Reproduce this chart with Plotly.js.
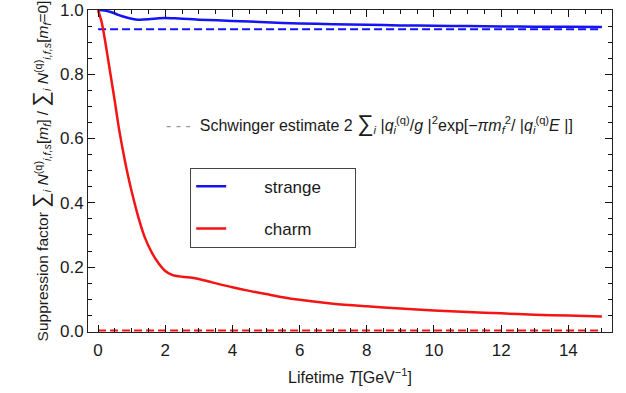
<!DOCTYPE html>
<html>
<head>
<meta charset="utf-8">
<script src="https://cdn.plot.ly/plotly-3.0.1.min.js"></script>
<style>html,body{margin:0;padding:0;background:#fff}#chart{width:626px;height:393px}</style>
</head>
<body>
<div id="chart"></div>
<script>
// Lifetime T [GeV^-1]
const strangeT = [0, 0.2, 0.4, 0.6, 0.8, 1.0, 1.2, 1.5, 1.8, 2.0, 2.3, 2.7, 3.0, 4, 5, 6, 7, 8, 9, 10, 11, 12, 13, 14, 15];
const strangeY = [1.0, 0.998, 0.993, 0.985, 0.978, 0.973, 0.970, 0.971, 0.974, 0.975, 0.974, 0.972, 0.970, 0.966, 0.962, 0.958, 0.956, 0.954, 0.952, 0.951, 0.950, 0.949, 0.948, 0.948, 0.947];

const charmT = [0, 0.1, 0.2, 0.3, 0.4, 0.5, 0.6, 0.7, 0.8, 0.9, 1.0, 1.2, 1.4, 1.6, 1.8, 2.0, 2.2, 2.5, 2.8, 3.0, 3.3, 3.6, 4.0, 4.5, 5, 5.5, 6, 7, 8, 9, 10, 11, 12, 13, 14, 15];
const charmY = [1.0, 0.965, 0.91, 0.845, 0.78, 0.715, 0.645, 0.585, 0.53, 0.48, 0.435, 0.355, 0.29, 0.245, 0.212, 0.188, 0.176, 0.170, 0.167, 0.163, 0.155, 0.147, 0.137, 0.126, 0.116, 0.106, 0.098, 0.086, 0.078, 0.071, 0.065, 0.060, 0.056, 0.052, 0.049, 0.046];

// Schwinger estimates (constant in T)
const schwingerT = [0, 15];
const schwingerStrange = [0.940, 0.940];
const schwingerCharm = [0.003, 0.003];

const seriesNames = ['strange', 'charm'];

const FONT = 'Liberation Sans, Arial, sans-serif';
const BLUE = '#1414f5';
const RED = '#f51414';
const NB = '\u00a0';
const pad = (s) => NB.repeat(7) + s + NB.repeat(6);

const traces = [
  {x: schwingerT, y: schwingerStrange, mode: 'lines', line: {color: BLUE, width: 2, dash: '8px,4px'}, showlegend: false, hoverinfo: 'skip'},
  {x: schwingerT, y: schwingerCharm, mode: 'lines', line: {color: RED, width: 2, dash: '8px,4px'}, showlegend: false, hoverinfo: 'skip'},
  {x: strangeT, y: strangeY, mode: 'lines', name: pad(seriesNames[0]), legendgroup: 'a', line: {color: BLUE, width: 2.5, shape: 'spline', smoothing: 0.8}},
  {x: charmT, y: charmY, mode: 'lines', name: pad(seriesNames[1]), legendgroup: 'b', line: {color: RED, width: 2.5, shape: 'spline', smoothing: 0.8}}
];

const axisCommon = {
  showline: true, linecolor: '#222', linewidth: 1, mirror: 'allticks',
  ticks: 'inside', ticklen: 7, tickwidth: 1, tickcolor: '#111',
  showgrid: false, zeroline: false, layer: 'above traces',
  tickfont: {family: FONT, size: 17, color: '#1a1a1a'}
};

const xMinor = {dtick: 0.5, ticks: 'inside', ticklen: 4, tickwidth: 1, tickcolor: '#111', showgrid: false};
const yMinor = {dtick: 0.05, ticks: 'inside', ticklen: 4, tickwidth: 1, tickcolor: '#111', showgrid: false};
const xRange = [-0.3, 15.3];
const yRange = [-0.002, 1.0];

const layout = {
  width: 626, height: 393,
  margin: {l: 88, r: 14, t: 10, b: 61},
  paper_bgcolor: '#fff', plot_bgcolor: '#fff',
  font: {family: FONT, color: '#1a1a1a'},
  xaxis: Object.assign({}, axisCommon, {
    range: xRange, dtick: 2, tick0: 0, minor: xMinor, ticklabelstandoff: 3,
    title: {text: 'Lifetime <i>T</i>[GeV<sup>−1</sup>]', font: {family: FONT, size: 16, color: '#1a1a1a'}, standoff: 12}
  }),
  yaxis: Object.assign({}, axisCommon, {
    range: yRange, dtick: 0.2, tick0: 0, tickformat: '.1f', minor: yMinor,
    title: {text: 'Suppression factor <span style="font-size:22px">∑</span><sub><i>i</i></sub> <i>N</i><sup>(q)</sup><sub><i>i,f,s</i></sub>[<i>m</i><sub><i>f</i></sub>] / <span style="font-size:22px">∑</span><sub><i>i</i></sub> <i>N</i><sup>(q)</sup><sub><i>i,f,s</i></sub>[<i>m</i><sub><i>f</i></sub>=0]', font: {family: FONT, size: 15.5, color: '#1a1a1a'}, standoff: 7}
  }),
  legend: {
    x: 0.195, y: 0.51, xanchor: 'left', yanchor: 'top',
    bordercolor: '#444', borderwidth: 1, bgcolor: '#fff',
    font: {family: FONT, size: 17, color: '#1a1a1a'},
    traceorder: 'grouped', tracegroupgap: 17
  },
  annotations: [{
    xref: 'paper', yref: 'paper', x: 0.145, y: 0.65, xanchor: 'left', yanchor: 'middle', showarrow: false,
    font: {family: FONT, size: 16, color: '#1a1a1a'},
    text: '<span style="color:#999">- - -</span>  Schwinger estimate 2 <span style="font-size:23px">∑</span><sub><i>i</i></sub> |<i>q</i><sub><i>i</i></sub><sup>(q)</sup>/<i>g</i> |<sup>2</sup>exp[−<i>πm</i><sub><i>f</i></sub><sup>2</sup>/ |<i>q</i><sub><i>i</i></sub><sup>(q)</sup><i>E</i> |]'
  }]
};

Plotly.newPlot('chart', traces, layout, {staticPlot: true, displayModeBar: false});
</script>
</body>
</html>
